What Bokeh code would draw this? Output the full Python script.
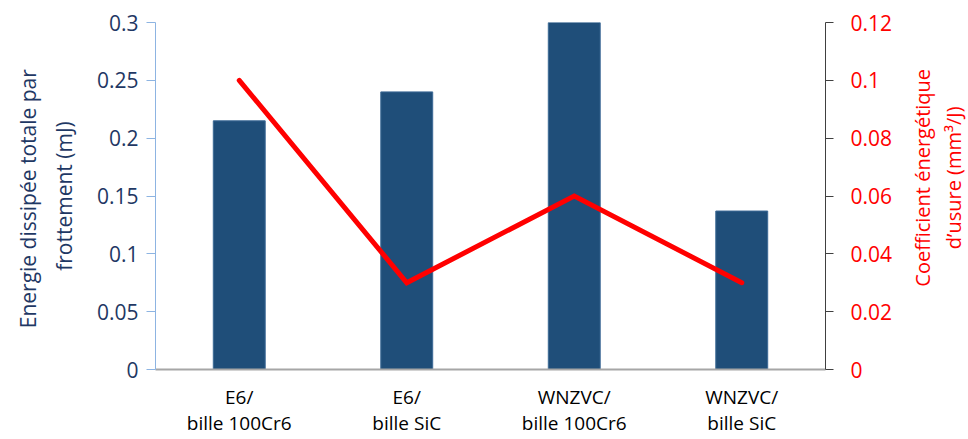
import math
from bokeh.plotting import figure
from bokeh.layouts import row
from bokeh.models import Range1d, LinearAxis, FixedTicker, CustomJSTickFormatter, FactorRange
from bokeh.core.properties import value
from bokeh.embed import file_html
from bokeh.resources import INLINE

categories = ["E6/\nbille 100Cr6", "E6/\nbille SiC", "WNZVC/\nbille 100Cr6", "WNZVC/\nbille SiC"]
energy = [0.215, 0.24, 0.30, 0.137]
coef = [0.10, 0.03, 0.06, 0.03]
left_ticks = [0, 0.05, 0.1, 0.15, 0.2, 0.25, 0.3]
right_ticks = [0, 0.02, 0.04, 0.06, 0.08, 0.1, 0.12]
left_title = "Energie dissipée totale  par\nfrottement (mJ)"
right_title_lines = ["Coefficient énergétique", "d\u2019usure (mm³/J)"]

FONT = "Open Sans"
NAVY = "#1f3864"
H = 438

p = figure(width=900, height=H, x_range=FactorRange(*categories, range_padding=0),
           y_range=Range1d(0, 0.3), output_backend="svg", toolbar_location=None,
           min_border_left=155, min_border_right=75, min_border_top=22, min_border_bottom=68)
p.extra_y_ranges = {"right": Range1d(0, 0.12)}
p.outline_line_color = None
p.xgrid.visible = False
p.ygrid.visible = False

p.vbar(x=categories, top=energy, width=0.31, fill_color="#1f4e79", line_color="#3d6a96", line_width=1)
p.line(x=categories, y=coef, y_range_name="right", line_color="#ff0000", line_width=5,
       line_cap="round", line_join="miter")

fmt = CustomJSTickFormatter(code="return String(Number(tick.toFixed(3)));")

ya = p.yaxis[0]
ya.ticker = FixedTicker(ticks=left_ticks)
ya.formatter = fmt
ya.axis_line_color = "#8db4e2"
ya.major_tick_line_color = "#8db4e2"
ya.major_tick_out = 9
ya.major_tick_in = 0
ya.minor_tick_line_color = None
ya.major_label_text_font = FONT
ya.major_label_text_font_size = "21px"
ya.major_label_text_color = NAVY
ya.major_label_standoff = 8
ya.axis_label = left_title
ya.axis_label_text_font = FONT
ya.axis_label_text_font_size = "21px"
ya.axis_label_text_font_style = "normal"
ya.axis_label_text_color = NAVY
ya.axis_label_text_line_height = 1.3
ya.axis_label_standoff = 16

ra = LinearAxis(y_range_name="right")
ra.ticker = FixedTicker(ticks=right_ticks)
ra.formatter = fmt
ra.axis_line_color = "#404040"
ra.major_tick_line_color = "#404040"
ra.major_tick_out = 8
ra.major_tick_in = 0
ra.minor_tick_line_color = None
ra.major_label_text_font = FONT
ra.major_label_text_font_size = "21px"
ra.major_label_text_color = "#ff0000"
ra.major_label_standoff = 17
p.add_layout(ra, "right")

xa = p.xaxis[0]
xa.axis_line_color = "#a6a6a6"
xa.axis_line_width = 2
xa.major_tick_line_color = None
xa.minor_tick_line_color = None
xa.major_label_text_font = FONT
xa.major_label_text_font_size = "19px"
xa.major_label_text_color = "#000000"
xa.major_label_text_line_height = 1.0
xa.major_label_standoff = 8

# side strip holding the right-axis title (reads bottom-to-top)
W2 = 66
p2 = figure(width=W2, height=H, x_range=Range1d(0, W2), y_range=Range1d(0, H),
            output_backend="svg", toolbar_location=None, min_border=0,
            x_axis_location=None, y_axis_location=None)
p2.outline_line_color = None
p2.xgrid.visible = False
p2.ygrid.visible = False
p2.text(x=[22, 53], y=[H - 196, H - 196], text=right_title_lines, angle=math.pi / 2,
        text_align="center", text_baseline="middle", text_font=value(FONT),
        text_font_size="20px", text_color="#ff0000")

layout = row(p, p2, spacing=0)
open("out.html", "w").write(file_html(layout, INLINE))
